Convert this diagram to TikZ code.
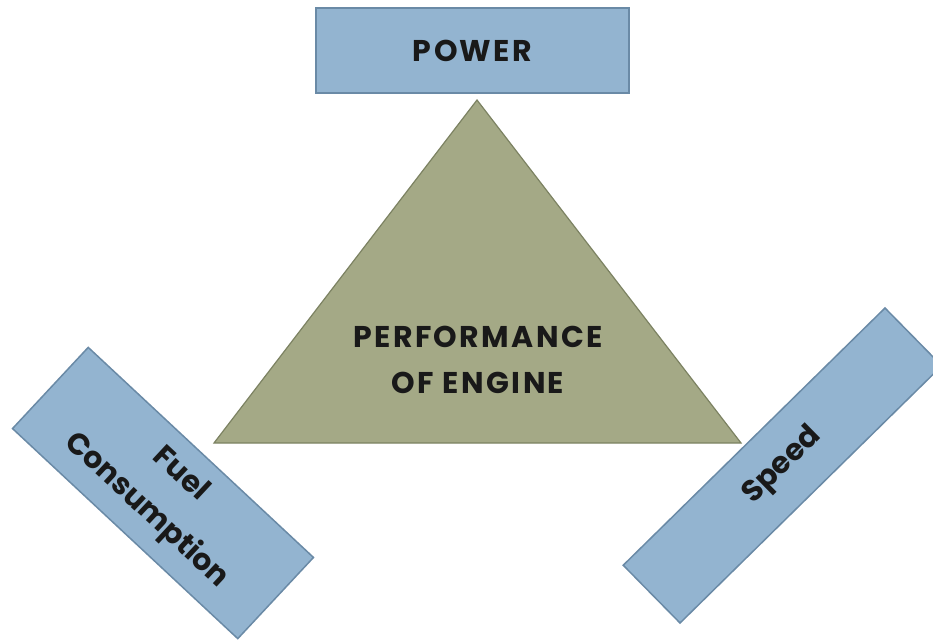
\documentclass[tikz,border=0pt]{standalone}
\usepackage{fontspec}
\setmainfont{Poppins}
\newfontfamily\capsfont{Poppins}[LetterSpace=8]
\definecolor{boxfill}{HTML}{93B4D0}
\definecolor{boxline}{HTML}{6A8AA6}
\definecolor{trifill}{HTML}{A4A986}
\definecolor{triline}{HTML}{7C8262}
\tikzset{
  box/.style={draw=boxline, fill=boxfill, line width=1.5pt, inner sep=0pt, align=center,
              font=\bfseries\fontsize{30}{50}\selectfont, text=black!90},
  capsbox/.style={box, font=\capsfont\bfseries\fontsize{30}{46}\selectfont},
  tri/.style={draw=triline, fill=trifill, line width=1.2pt, line join=miter},
  lbl/.style={align=center, font=\capsfont\bfseries\fontsize{30}{46}\selectfont, text=black!90}
}
\begin{document}
\begin{tikzpicture}[x=1pt,y=-1pt]
\useasboundingbox (0,0) rectangle (933,641);
\clip (0,0) rectangle (933,641);
\node[capsbox, minimum width=313pt, minimum height=85pt] (power) at (472.5,50.5) {POWER};
\coordinate (apex) at (477,100);
\coordinate (bl) at (214,443);
\coordinate (br) at (741,443);
\draw[tri] (apex) -- (bl) -- (br) -- cycle;
\node[lbl] (perf) at (478,360) {PERFORMANCE\\OF ENGINE};
\node[box, rotate=-43, minimum width=308pt, minimum height=111pt] (fuel) at (163,493) {Fuel\\Consumption};
\node[box, rotate=44.5, minimum width=367pt, minimum height=81pt] (speed) at (782.5,465.5) {Speed};
\end{tikzpicture}
\end{document}
